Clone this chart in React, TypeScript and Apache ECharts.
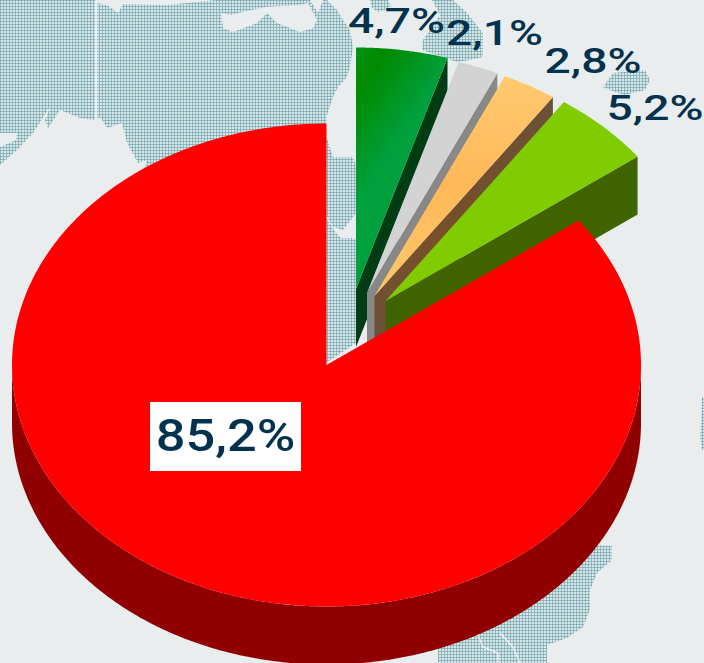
import React, { useEffect, useRef } from "react";
import * as echarts from "echarts";

// ---- data ----
const sliceNames = ["Green", "Grey", "Orange", "Lime", "Red"];
const sliceValues = [4.7, 2.1, 2.8, 5.2, 85.2];

// ---- layout and styles ----
const WIDTH = 704;
const HEIGHT = 663;
const CX = 326.5;
const CY = 365;
const RX = 314.5;
const RY = 241.5;
const DEPTH = 58;
const BG = "#e9edee";
const TEXT = "#03324f";

const explodeOffsets = [
  [29.5, -76],
  [40.5, -72],
  [48, -69],
  [59, -64],
  [0, 0],
];
const labelAnchors = [
  { x: 396.5, y: 21, size: 35, scaleX: 1.32 },
  { x: 494.5, y: 33, size: 35, scaleX: 1.32 },
  { x: 593, y: 61, size: 35, scaleX: 1.32 },
  { x: 655, y: 108, size: 35, scaleX: 1.32 },
  { x: 225.5, y: 436, size: 44, scaleX: 1.19 },
];

const linear = (x: number, y: number, x2: number, y2: number, stops: [number, string][]) =>
  new echarts.graphic.LinearGradient(
    x, y, x2, y2,
    stops.map(([offset, color]) => ({ offset, color })),
    true
  );

const topFills: any[] = [
  linear(355, 43, 430, 93, [[0, "#00951a"], [0.33, "#008a00"], [1, "#00a03c"]]),
  "#d3d3d3",
  linear(0, 75, 0, 295, [[0, "#ffca70"], [0.5, "#ffb858"], [1, "#ffc76a"]]),
  "#81cc00",
  "#ff0000",
];
const wallFills: any[] = [
  "#003c14",
  "#888888",
  linear(0, 100, 0, 350, [[0, "#6a5139"], [0.55, "#784f29"], [1, "#6a5239"]]),
  "#3f6400",
  "#900000",
];

// Map backdrop outlines (decorative)
const landShapes: number[][][] = [
  [[0, 0], [95, 0], [95, 120], [80, 118], [60, 110], [48, 128], [45, 120], [50, 107], [33, 133], [17, 150], [0, 165]],
  [[97, 3], [107, 5], [118, 13], [123, 4], [167, 5], [217, 0], [327, 0], [337, 10], [343, 20], [350, 30], [353, 47], [350, 67], [347, 77], [338, 87], [333, 97], [327, 115], [326, 125], [326, 360], [100, 300], [147, 160], [138, 163], [127, 143], [122, 123], [107, 128], [100, 117], [97, 120]],
  [[326, 135], [333, 157], [353, 157], [356, 167], [356, 213], [343, 230], [333, 227], [326, 215]],
  [[326, 217], [336, 233], [341, 238], [353, 238], [356, 240], [356, 343], [326, 363]],
  [[370, 0], [388, 0], [391, 6], [385, 10], [378, 12], [372, 8]],
  [[432, 0], [453, 0], [467, 13], [483, 33], [483, 57], [470, 60], [457, 62], [422, 50], [423, 40], [430, 30], [440, 15]],
  [[603, 87], [613, 73], [645, 70], [650, 80], [645, 90], [625, 95], [615, 92]],
  [[598, 545], [612, 546], [612, 560], [597, 573], [590, 590], [590, 610], [583, 627], [567, 638], [547, 645], [547, 663], [438, 663], [438, 647], [500, 600], [560, 570]],
  [[702, 397], [704, 397], [704, 450], [702, 450], [700, 437], [701, 425]],
];
const waterShapes: number[][][] = [
  [[0, 133], [17, 133], [16, 140], [0, 147]],
  [[221, 13], [223, 28], [233, 32], [257, 23], [267, 13], [277, 23], [300, 32], [313, 28], [317, 20], [308, 3], [300, 5], [265, 7], [230, 15]],
  [[310, 0], [318, 13], [323, 0]],
];
const borderLines: number[][][] = [
  [[477, 633], [483, 647], [498, 653], [498, 663]],
  [[500, 633], [513, 647], [520, 663]],
];

function makeHatch() {
  const c = document.createElement("canvas");
  c.width = 3;
  c.height = 3;
  const g = c.getContext("2d")!;
  g.fillStyle = "#d9e6e8";
  g.fillRect(0, 0, 3, 3);
  g.fillStyle = "#94bac1";
  g.fillRect(0, 0, 3, 1);
  g.fillRect(0, 0, 1, 3);
  g.fillStyle = "#7aa9b1";
  g.fillRect(0, 0, 1, 1);
  return c;
}

const rimPoint = (cx: number, cy: number, deg: number): number[] => {
  const r = (deg * Math.PI) / 180;
  return [cx + RX * Math.sin(r), cy - RY * Math.cos(r)];
};
const arcPoints = (cx: number, cy: number, from: number, to: number): number[][] => {
  const pts: number[][] = [];
  const steps = Math.max(2, Math.ceil(Math.abs(to - from) * 2));
  for (let i = 0; i <= steps; i++) pts.push(rimPoint(cx, cy, from + ((to - from) * i) / steps));
  return pts;
};

export default function App() {
  const ref = useRef<HTMLDivElement>(null);
  useEffect(() => {
    document.body.style.margin = "0";
    document.body.style.background = BG;
    const chart = echarts.init(ref.current!, null, { renderer: "svg" });
    const hatch = { image: makeHatch(), repeat: "repeat" };
    const total = sliceValues.reduce((a, b) => a + b, 0);

    const renderItem = (params: any, api: any) => {
      const i = params.dataIndex;
      const before = sliceValues.slice(0, i).reduce((a, b) => a + b, 0);
      const start = (before / total) * 360;
      const end = start + (api.value(0) / total) * 360;
      const [dx, dy] = explodeOffsets[i];
      const ax = CX + dx;
      const ay = CY + dy;
      const rim = arcPoints(ax, ay, start, end);
      const children: any[] = [];

      if (i === sliceValues.length - 1) {
        // front rim of the main body
        const upper = arcPoints(ax, ay, 90, 270);
        const lower = arcPoints(ax, ay + DEPTH, 270, 90);
        children.push({
          type: "polygon",
          shape: { points: upper.concat(lower) },
          style: { fill: wallFills[i] },
        });
      } else {
        // radial cut face at the slice's clockwise edge
        const tip = rim[rim.length - 1];
        children.push({
          type: "polygon",
          shape: { points: [[ax, ay], tip, [tip[0], tip[1] + DEPTH], [ax, ay + DEPTH]] },
          style: { fill: wallFills[i] },
        });
      }
      children.push({
        type: "polygon",
        shape: { points: [[ax, ay], ...rim] },
        style: { fill: topFills[i] },
      });

      const la = labelAnchors[i];
      const text = String(api.value(0)).replace(".", ",") + "%";
      if (i === sliceValues.length - 1) {
        children.push({
          type: "rect",
          shape: { x: 150, y: 402, width: 151, height: 69 },
          style: { fill: "#ffffff" },
        });
      }
      children.push({
        type: "text",
        x: la.x,
        y: la.y,
        scaleX: la.scaleX,
        style: {
          text,
          x: 0,
          y: 0,
          font: `500 ${la.size}px Roboto`,
          fill: TEXT,
          align: "center",
          verticalAlign: "middle",
        },
      });
      return { type: "group", children };
    };

    chart.setOption({
      animation: false,
      backgroundColor: BG,
      tooltip: { show: false },
      graphic: {
        elements: [
          ...landShapes.map((points) => ({
            type: "polygon",
            silent: true,
            shape: { points },
            style: { fill: hatch },
          })),
          ...waterShapes.map((points) => ({
            type: "polygon",
            silent: true,
            shape: { points },
            style: { fill: BG },
          })),
          ...borderLines.map((points) => ({
            type: "polyline",
            silent: true,
            shape: { points },
            style: { fill: "none", stroke: BG, lineWidth: 1.5 },
          })),
        ],
      },
      series: [
        {
          type: "custom",
          coordinateSystem: "none",
          silent: true,
          clip: false,
          renderItem,
          data: sliceValues.map((value, k) => ({ name: sliceNames[k], value })),
        },
      ],
    });
    return () => chart.dispose();
  }, []);
  return <div ref={ref} style={{ width: WIDTH, height: HEIGHT }} />;
}
